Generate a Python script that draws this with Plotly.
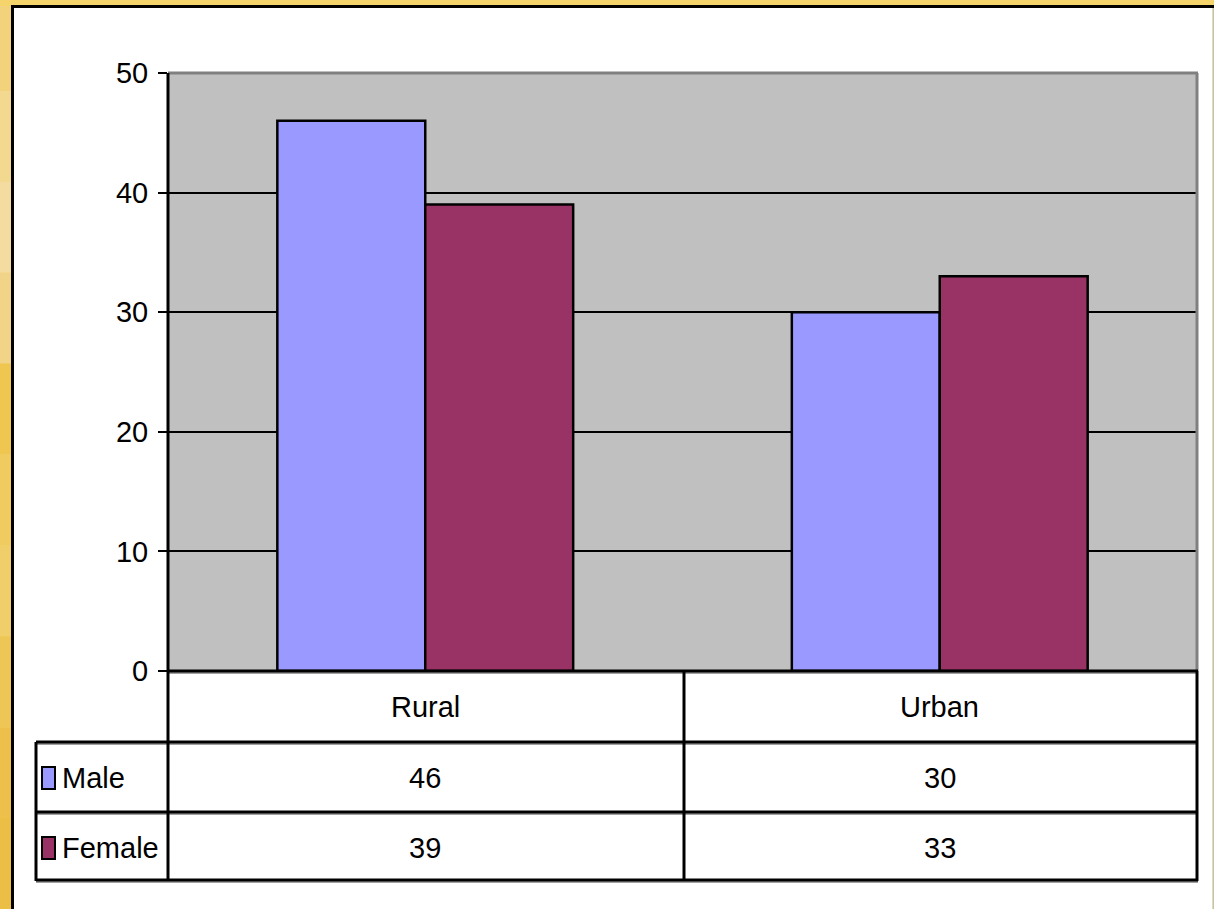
import plotly.graph_objects as go

categories = ["Rural", "Urban"]
male = [46, 30]
female = [39, 33]
series_names = ["Male", "Female"]
series_colors = ["#9999FF", "#993366"]
y_ticks = [0, 10, 20, 30, 40, 50]

W, H = 1214, 909
def px(x):
    return x / W
def py(y):
    return 1 - y / H

FONT = "Liberation Sans, Arial, sans-serif"
FS = 29

fig = go.Figure()
for name, vals, col in zip(series_names, [male, female], series_colors):
    fig.add_trace(go.Bar(x=categories, y=vals, name=name,
                         marker=dict(color=col, line=dict(color="black", width=2.5)),
                         showlegend=False, hoverinfo="x+y+name"))

shapes = []
# orange background gradient on the left strip
grad = ["#F2D27A", "#F3D890", "#F4DCA0", "#F2D488", "#EEC650", "#EFCB60", "#F0CE6A", "#EEC655", "#ECC04A", "#EBBE45"]
n = len(grad)
for i, c in enumerate(grad):
    shapes.append(dict(type="rect", xref="paper", yref="paper", x0=0, x1=px(12),
                       y0=py(H * (i + 1) / n), y1=py(H * i / n),
                       fillcolor=c, line=dict(width=0), layer="below"))
shapes.append(dict(type="rect", xref="paper", yref="paper", x0=0, x1=1, y0=py(6), y1=1,
                   fillcolor="#F5D46C", line=dict(width=0), layer="below"))
# white panel
shapes.append(dict(type="rect", xref="paper", yref="paper", x0=px(12), x1=px(1213), y0=0, y1=py(6),
                   fillcolor="white", line=dict(width=0), layer="below"))
# grey plot area
shapes.append(dict(type="rect", xref="paper", yref="paper", x0=px(168), x1=px(1197), y0=py(671), y1=py(73),
                   fillcolor="#C0C0C0", line=dict(width=0), layer="below"))
# panel border black (top/left) and grey (right)
shapes.append(dict(type="line", xref="paper", yref="paper", x0=px(11), x1=px(1214), y0=py(6.5), y1=py(6.5),
                   line=dict(color="black", width=3)))
shapes.append(dict(type="line", xref="paper", yref="paper", x0=px(12.5), x1=px(12.5), y0=0, y1=py(5),
                   line=dict(color="black", width=3)))
shapes.append(dict(type="line", xref="paper", yref="paper", x0=px(1213), x1=px(1213), y0=0, y1=py(8),
                   line=dict(color="#B0B0B0", width=1)))

# plot area top and right borders (grey)
shapes.append(dict(type="line", xref="paper", yref="paper", x0=px(168), x1=px(1198), y0=py(73), y1=py(73),
                   line=dict(color="#808080", width=3)))
shapes.append(dict(type="line", xref="paper", yref="paper", x0=px(1197), x1=px(1197), y0=py(73), y1=py(671),
                   line=dict(color="#808080", width=3)))

# data table lines (with light shadow)
def hline(x0, x1, y):
    shapes.append(dict(type="line", xref="paper", yref="paper", x0=px(x0), x1=px(x1), y0=py(y + 2), y1=py(y + 2),
                       line=dict(color="#A0A0A0", width=2)))
    shapes.append(dict(type="line", xref="paper", yref="paper", x0=px(x0), x1=px(x1), y0=py(y), y1=py(y),
                       line=dict(color="black", width=3)))
def vline(x, y0, y1):
    shapes.append(dict(type="line", xref="paper", yref="paper", x0=px(x), x1=px(x), y0=py(y0), y1=py(y1),
                       line=dict(color="black", width=3)))

hline(168, 1198, 671)
hline(36, 1198, 742)
hline(36, 1198, 812)
hline(36, 1198, 880)
vline(168, 73, 881)
vline(36, 742, 881)
vline(684, 671, 881)
vline(1197, 671, 881)

annotations = []
for cat in categories:
    annotations.append(dict(x=cat, xref="x", y=py(707), yref="paper", text=cat, showarrow=False,
                            font=dict(family=FONT, size=FS, color="black"), xanchor="center", yanchor="middle"))
for vals, yy in zip([male, female], [778, 848]):
    for cat, v in zip(categories, vals):
        annotations.append(dict(x=cat, xref="x", y=py(yy), yref="paper", text=str(v), showarrow=False,
                                font=dict(family=FONT, size=FS, color="black"), xanchor="center", yanchor="middle"))
# legend keys in the table
for name, col, yy in zip(series_names, series_colors, [778, 848]):
    shapes.append(dict(type="rect", xref="paper", yref="paper", x0=px(42), x1=px(55), y0=py(yy + 11), y1=py(yy - 11),
                       fillcolor=col, line=dict(color="black", width=2)))
    annotations.append(dict(x=px(60), xref="paper", y=py(yy), yref="paper", text=name, showarrow=False,
                            font=dict(family=FONT, size=FS, color="black"), xanchor="left", yanchor="middle"))

fig.update_layout(
    width=W, height=H,
    margin=dict(l=0, r=0, t=0, b=0, pad=0, autoexpand=False),
    paper_bgcolor="#F5D46C",
    plot_bgcolor="#C0C0C0",
    barmode="group", bargap=0.425, bargroupgap=0,
    shapes=shapes, annotations=annotations,
    xaxis=dict(domain=[px(168), px(1197)], showticklabels=False, showgrid=False, zeroline=False, showline=False,
               ticks="", automargin=False),
    yaxis=dict(domain=[py(671), py(73)], range=[0, 50], tickvals=y_ticks, showgrid=True, gridcolor="black",
               gridwidth=2, zeroline=False, showline=False, ticks="outside", ticklen=9, tickwidth=2,
               tickcolor="black", ticklabelstandoff=4, automargin=False,
               tickfont=dict(family=FONT, size=FS, color="black")),
)

fig.write_html("out.html", config={"displayModeBar": False},
               post_script="document.body.style.margin='0';document.body.style.overflow='hidden';")
